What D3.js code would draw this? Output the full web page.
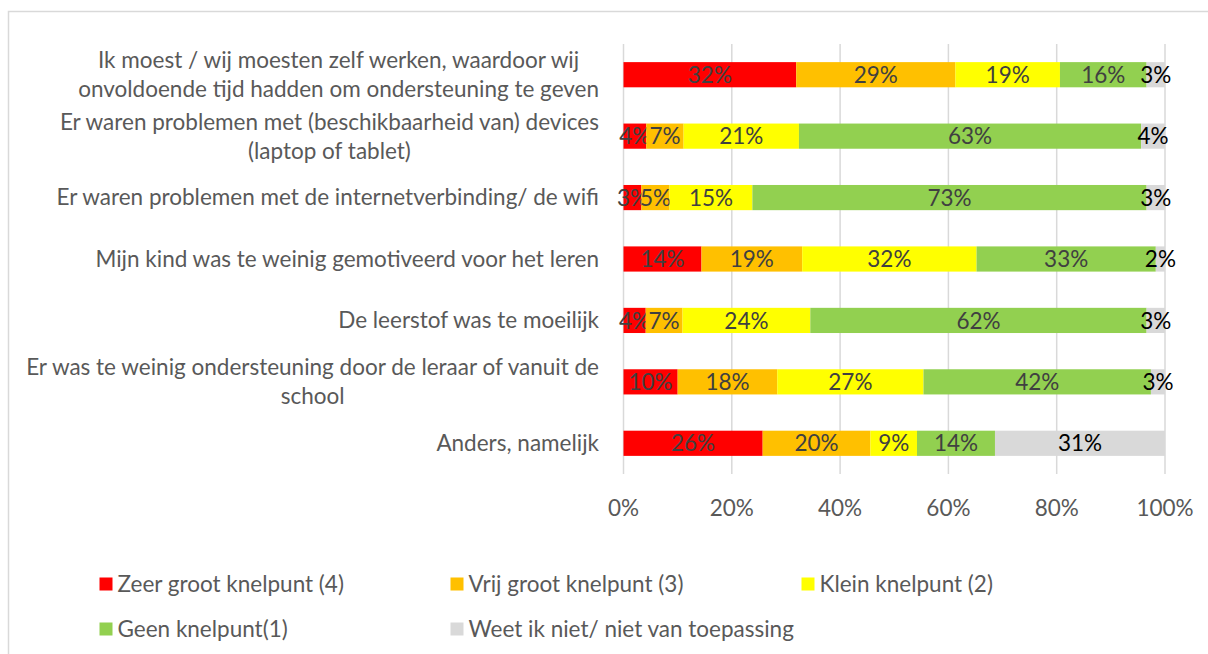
<!DOCTYPE html>
<html>
<head>
<meta charset="utf-8">
<script src="https://cdn.jsdelivr.net/npm/d3@7"></script>
<style>
  body { margin: 0; background: #fff; }
  text { font-family: Lato, "Open Sans", sans-serif; }
</style>
</head>
<body>
<div id="chart"></div>
<script>
// categories (each entry = lines of the wrapped label)
var categories = [
    ["Ik moest / wij moesten zelf werken, waardoor wij", "onvoldoende tijd hadden om ondersteuning te geven"],
    ["Er waren problemen met (beschikbaarheid van) devices", "(laptop of tablet)"],
    ["Er waren problemen met de internetverbinding/ de wifi"],
    ["Mijn kind was te weinig gemotiveerd voor het leren"],
    ["De leerstof was te moeilijk"],
    ["Er was te weinig ondersteuning door de leraar of vanuit de", "school"],
    ["Anders, namelijk"]
];

var seriesNames = ["Zeer groot knelpunt (4)", "Vrij groot knelpunt (3)", "Klein knelpunt (2)",
    "Geen knelpunt(1)", "Weet ik niet/ niet van toepassing"];
var seriesColors = ["#ff0000", "#ffc000", "#ffff00", "#92d050", "#d9d9d9"];

// share per category, in %, one array per series
var zeerGroot  = [31.9, 4.2, 3.3, 14.4, 4.1, 10.0, 25.7];
var vrijGroot  = [29.4, 6.9, 5.2, 18.6, 6.8, 18.4, 19.9];
var klein      = [19.3, 21.3, 15.3, 32.2, 23.6, 27.0, 8.6];
var geen       = [16.0, 63.2, 72.8, 33.1, 62.1, 42.0, 14.4];
var weetNiet   = [3.4, 4.4, 3.4, 1.7, 3.4, 2.6, 31.4];

var xTicks = [0, 0.2, 0.4, 0.6, 0.8, 1];

var width = 1208, height = 654;
var fs = "22.5px";

var svg = d3.select("#chart").append("svg")
    .attr("width", width)
    .attr("height", height);

// outer frame
svg.append("rect")
    .attr("x", 8.5).attr("y", 11.5)
    .attr("width", 1300).attr("height", 800)
    .attr("fill", "none")
    .attr("stroke", "#d9d9d9")
    .attr("stroke-width", 1.5);

// build rows for the stack
var keys = ["zg", "vg", "kl", "ge", "wn"];
var rows = categories.map(function (c, i) {
    return {id: i, zg: zeerGroot[i], vg: vrijGroot[i], kl: klein[i], ge: geen[i], wn: weetNiet[i]};
});
var stacked = d3.stack().keys(keys).offset(d3.stackOffsetExpand)(rows);

var x = d3.scaleLinear().domain([0, 1]).range([623.5, 1165]);
var y = d3.scaleBand()
    .domain(rows.map(function (d) { return d.id; }))
    .range([44, 474])
    .paddingInner(0.59)
    .paddingOuter(0.295);

// gridlines
svg.append("g")
    .selectAll("line")
    .data(xTicks)
    .enter().append("line")
    .attr("x1", function (d) { return x(d); })
    .attr("x2", function (d) { return x(d); })
    .attr("y1", 44).attr("y2", 474)
    .attr("stroke", "#d9d9d9")
    .attr("stroke-width", 1.5);

// tick labels
svg.append("g")
    .selectAll("text")
    .data(xTicks)
    .enter().append("text")
    .attr("x", function (d) { return x(d); })
    .attr("y", 508)
    .attr("dy", "0.35em")
    .attr("text-anchor", "middle")
    .style("font-size", fs)
    .style("fill", "#595959")
    .text(d3.format(".0%"));

// bars
var layer = svg.append("g")
    .selectAll("g")
    .data(stacked)
    .enter().append("g")
    .attr("fill", function (d, i) { return seriesColors[i]; });

layer.selectAll("rect")
    .data(function (d) { return d; })
    .enter().append("rect")
    .attr("x", function (d) { return x(d[0]); })
    .attr("width", function (d) { return x(d[1]) - x(d[0]); })
    .attr("y", function (d) { return y(d.data.id); })
    .attr("height", y.bandwidth());

// data labels
layer.selectAll("text")
    .data(function (d) { return d.map(function (p) { return {p: p, key: d.key}; }); })
    .enter().append("text")
    .attr("x", function (d) { return (x(d.p[0]) + x(d.p[1])) / 2; })
    .attr("y", function (d) { return y(d.p.data.id) + y.bandwidth() / 2; })
    .attr("dy", "0.36em")
    .attr("text-anchor", "middle")
    .style("font-size", fs)
    .style("fill", function (d) { return d.key === "wn" ? "#000" : "#404040"; })
    .text(function (d) { return Math.round(d.p.data[d.key]) + "%"; });

// category labels (block right aligned, lines centred in the block)
var catG = svg.append("g")
    .selectAll("g")
    .data(categories)
    .enter().append("g");

catG.each(function (lines, i) {
    var g = d3.select(this);
    var cy = y(i) + y.bandwidth() / 2;
    var lh = 29;
    var t = g.append("text")
        .attr("text-anchor", "middle")
        .style("font-size", fs)
        .style("fill", "#595959");
    lines.forEach(function (l, j) {
        t.append("tspan")
            .attr("y", cy + (j - (lines.length - 1) / 2) * lh)
            .attr("dy", "0.35em")
            .text(l);
    });
    // measure widest line then place the block so it ends at x=599
    var w = d3.max(t.selectAll("tspan").nodes(), function (n) { return n.getComputedTextLength(); });
    t.selectAll("tspan").attr("x", 599 - w / 2);
});

// legend
var legendPos = [[99.5, 584], [450.5, 584], [801.5, 584], [99.5, 629], [450.5, 629]];
var legend = svg.append("g")
    .selectAll("g")
    .data(seriesNames)
    .enter().append("g")
    .attr("transform", function (d, i) { return "translate(" + legendPos[i][0] + "," + legendPos[i][1] + ")"; });

legend.append("rect")
    .attr("x", 0).attr("y", -6.5)
    .attr("width", 13).attr("height", 13)
    .attr("fill", function (d, i) { return seriesColors[i]; });

legend.append("text")
    .attr("x", 18)
    .attr("dy", "0.35em")
    .style("font-size", fs)
    .style("fill", "#595959")
    .text(function (d) { return d; });
</script>
</body>
</html>
